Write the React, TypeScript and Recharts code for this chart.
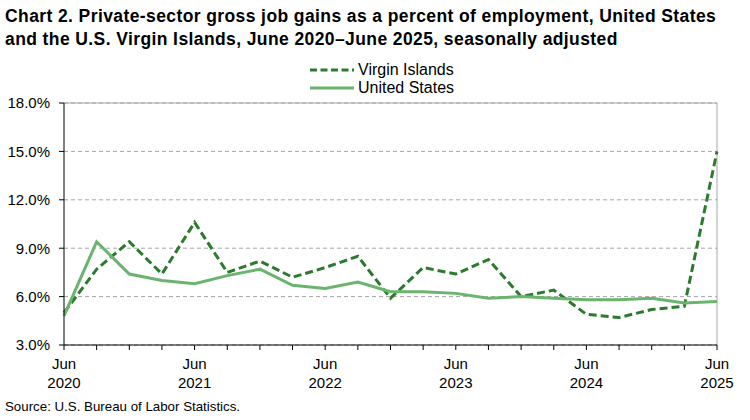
import { CartesianGrid, Line, LineChart, ReferenceLine, XAxis, YAxis } from "recharts";

// quarterly periods, June 2020 – June 2025
const QUARTERS = [
  "Jun 2020", "Sep 2020", "Dec 2020", "Mar 2021",
  "Jun 2021", "Sep 2021", "Dec 2021", "Mar 2022",
  "Jun 2022", "Sep 2022", "Dec 2022", "Mar 2023",
  "Jun 2023", "Sep 2023", "Dec 2023", "Mar 2024",
  "Jun 2024", "Sep 2024", "Dec 2024", "Mar 2025",
  "Jun 2025",
];

const VIRGIN_ISLANDS = [
  5.0, 7.7, 9.4, 7.4, 10.6, 7.5, 8.2, 7.2, 7.8, 8.5, 5.9,
  7.8, 7.4, 8.3, 6.0, 6.4, 4.9, 4.7, 5.2, 5.4, 15.0,
];

const UNITED_STATES = [
  4.8, 9.4, 7.4, 7.0, 6.8, 7.3, 7.7, 6.7, 6.5, 6.9, 6.3,
  6.3, 6.2, 5.9, 6.0, 5.9, 5.8, 5.8, 5.9, 5.6, 5.7,
];

const Y_TICKS = [3, 6, 9, 12, 15, 18];

const VI_COLOR = "#2b7a2e";
const US_COLOR = "#6ab46e";
const FONT = "Arial, 'Liberation Sans', sans-serif";

const data = QUARTERS.map((q, i) => ({
  period: q,
  vi: VIRGIN_ISLANDS[i],
  us: UNITED_STATES[i],
}));

function QuarterTick({ x, y, payload }: any) {
  const [month, year] = String(payload.value).split(" ");
  if (month !== "Jun") return null;
  return (
    <text x={x} y={y} textAnchor="middle" fontSize={15} fill="#000" fontFamily={FONT}>
      <tspan x={x} dy={17}>{month}</tspan>
      <tspan x={x} dy={19}>{year}</tspan>
    </text>
  );
}

function LegendBox() {
  const items = [
    { label: "Virgin Islands", color: VI_COLOR, dash: "7 3.5" },
    { label: "United States", color: US_COLOR, dash: undefined },
  ];
  return (
    <div style={{ position: "absolute", left: 309, top: 61, fontFamily: FONT, fontSize: 16, lineHeight: "18px" }}>
      {items.map((it) => (
        <div key={it.label} style={{ display: "flex", alignItems: "center" }}>
          <svg width={46} height={18} style={{ marginRight: 3 }}>
            <line x1={1} y1={9} x2={45} y2={9} stroke={it.color} strokeWidth={3} strokeDasharray={it.dash} />
          </svg>
          <span>{it.label}</span>
        </div>
      ))}
    </div>
  );
}

export default function App() {
  return (
    <div style={{ position: "absolute", left: 0, top: 0, width: 750, height: 420, background: "#fff", fontFamily: FONT }}>
      <div style={{ position: "absolute", left: 5, top: 5, fontSize: 17.5, fontWeight: "bold", letterSpacing: 0.4, lineHeight: "23px", whiteSpace: "nowrap" }}>
        Chart 2. Private-sector gross job gains as a percent of employment, United States
        <br />
        and the U.S. Virgin Islands, June 2020–June 2025, seasonally adjusted
      </div>
      <LineChart width={750} height={420} data={data} margin={{ top: 103, right: 33, bottom: 35, left: 8 }}>
        <CartesianGrid vertical={false} stroke="#a6a6a6" strokeDasharray="4 3" />
        <XAxis
          dataKey="period"
          interval={0}
          tick={<QuarterTick />}
          tickSize={5}
          height={40}
          axisLine={{ stroke: "#000" }}
          tickLine={{ stroke: "#000" }}
        />
        <YAxis
          domain={[3, 18]}
          ticks={Y_TICKS}
          width={56}
          tickSize={5}
          tickMargin={9}
          tickFormatter={(v: number) => v.toFixed(1) + "%"}
          tick={{ fontSize: 15, fill: "#000", fontFamily: FONT }}
          axisLine={{ stroke: "#000" }}
          tickLine={{ stroke: "#000" }}
        />
        <ReferenceLine y={18} stroke="#a6a6a6" />
        <ReferenceLine x={QUARTERS[QUARTERS.length - 1]} stroke="#a6a6a6" />
        <Line
          dataKey="vi"
          name="Virgin Islands"
          stroke={VI_COLOR}
          strokeWidth={3}
          strokeDasharray="8 4"
          dot={false}
          isAnimationActive={false}
        />
        <Line
          dataKey="us"
          name="United States"
          stroke={US_COLOR}
          strokeWidth={3}
          dot={false}
          isAnimationActive={false}
        />
      </LineChart>
      <LegendBox />
      <div style={{ position: "absolute", left: 5, top: 399, fontSize: 13.3, whiteSpace: "nowrap" }}>
        Source: U.S. Bureau of Labor Statistics.
      </div>
    </div>
  );
}
